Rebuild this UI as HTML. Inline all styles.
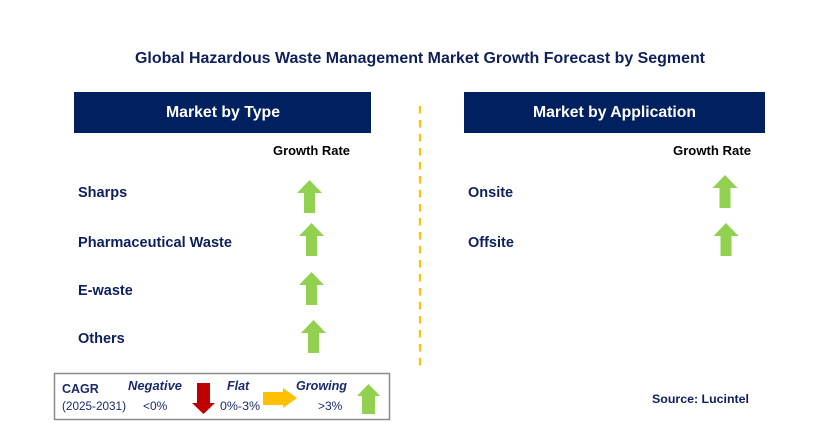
<!DOCTYPE html>
<html>
<head>
<meta charset="utf-8">
<style>
html,body{margin:0;padding:0;background:#fff;}
svg{display:block;}
text{font-family:"Liberation Sans",Arial,sans-serif;}
</style>
</head>
<body>
<svg width="829" height="448" viewBox="0 0 829 448" xmlns="http://www.w3.org/2000/svg">
<rect x="0" y="0" width="829" height="448" fill="#ffffff"/>
<!-- Title -->
<text x="420" y="63" text-anchor="middle" font-size="16" font-weight="bold" fill="#0e1f5b" textLength="570" lengthAdjust="spacingAndGlyphs">Global Hazardous Waste Management Market Growth Forecast by Segment</text>

<!-- Header boxes -->
<rect x="74" y="92" width="297" height="41" fill="#002060"/>
<text x="223" y="117" text-anchor="middle" font-size="16" font-weight="bold" fill="#ffffff" textLength="114" lengthAdjust="spacingAndGlyphs">Market by Type</text>
<rect x="464" y="92" width="301" height="41" fill="#002060"/>
<text x="614.5" y="117" text-anchor="middle" font-size="16" font-weight="bold" fill="#ffffff" textLength="163" lengthAdjust="spacingAndGlyphs">Market by Application</text>

<!-- Growth Rate -->
<text x="273" y="155" font-size="13" font-weight="bold" fill="#000000" textLength="77" lengthAdjust="spacingAndGlyphs">Growth Rate</text>
<text x="673" y="155" font-size="13" font-weight="bold" fill="#000000" textLength="78" lengthAdjust="spacingAndGlyphs">Growth Rate</text>

<!-- Dashed divider -->
<line x1="420" y1="106" x2="420" y2="367" stroke="#FFC000" stroke-width="2.2" stroke-dasharray="7.5 6.5"/>

<!-- Left labels -->
<g font-size="14.5" font-weight="bold" fill="#0e1f5b">
<text x="78" y="197">Sharps</text>
<text x="78" y="247" textLength="154" lengthAdjust="spacingAndGlyphs">Pharmaceutical Waste</text>
<text x="78" y="295">E-waste</text>
<text x="78" y="343">Others</text>
<text x="468" y="197">Onsite</text>
<text x="468" y="247">Offsite</text>
</g>

<!-- Green up arrows -->
<g fill="#92D050">
<path d="M309.5,180 L322,193 L315,193 L315,213 L304,213 L304,193 L297,193 Z"/>
<path d="M311.5,223 L324,236 L317,236 L317,256 L306,256 L306,236 L299,236 Z"/>
<path d="M311.5,272 L324,285 L317,285 L317,305 L306,305 L306,285 L299,285 Z"/>
<path d="M313.5,320 L326,333 L319,333 L319,353 L308,353 L308,333 L301,333 Z"/>
<path d="M725,175 L737.5,188 L730.5,188 L730.5,208 L719.5,208 L719.5,188 L712.5,188 Z"/>
<path d="M726,223 L738.5,236 L731.5,236 L731.5,256 L720.5,256 L720.5,236 L713.5,236 Z"/>
</g>

<!-- Legend -->
<rect x="54.5" y="373.5" width="335" height="46" fill="#ffffff" stroke="#8a8a8a" stroke-width="1.5"/>
<text x="62" y="393" font-size="12.5" font-weight="bold" fill="#1a2a6b">CAGR</text>
<text x="62" y="410" font-size="11.5" fill="#1a2a6b" textLength="64" lengthAdjust="spacingAndGlyphs">(2025-2031)</text>
<text x="128" y="390" font-size="12.5" font-weight="bold" font-style="italic" fill="#1a2a6b" textLength="54" lengthAdjust="spacingAndGlyphs">Negative</text>
<text x="143" y="410" font-size="12" fill="#1a2a6b">&lt;0%</text>
<path d="M197,383 L210,383 L210,403 L215,403 L203.5,414 L192,403 L197,403 Z" fill="#C00000"/>
<text x="227" y="390" font-size="12.5" font-weight="bold" font-style="italic" fill="#1a2a6b">Flat</text>
<text x="220" y="410" font-size="12" fill="#1a2a6b" textLength="40" lengthAdjust="spacingAndGlyphs">0%-3%</text>
<path d="M263,392 L283,392 L283,388 L297,398 L283,408 L283,405 L263,405 Z" fill="#FFC000"/>
<text x="296" y="390" font-size="12.5" font-weight="bold" font-style="italic" fill="#1a2a6b" textLength="51" lengthAdjust="spacingAndGlyphs">Growing</text>
<text x="318" y="410" font-size="12" fill="#1a2a6b">&gt;3%</text>
<path d="M368.5,384 L380,396 L375,396 L375,414 L362,414 L362,396 L357,396 Z" fill="#92D050"/>

<!-- Source -->
<text x="652" y="403" font-size="12.4" font-weight="bold" fill="#0e1f5b" textLength="97" lengthAdjust="spacingAndGlyphs">Source: Lucintel</text>
</svg>
</body>
</html>
